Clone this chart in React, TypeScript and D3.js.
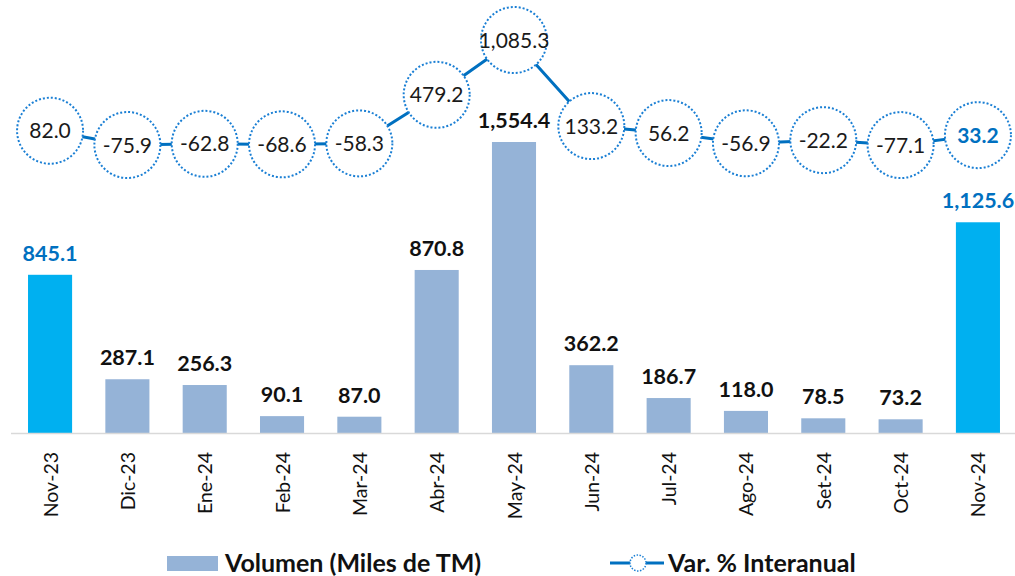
import React from "react";
import * as d3 from "d3";

const categories = ["Nov-23","Dic-23","Ene-24","Feb-24","Mar-24","Abr-24","May-24","Jun-24","Jul-24","Ago-24","Set-24","Oct-24","Nov-24"];
const volumen = [845.1, 287.1, 256.3, 90.1, 87.0, 870.8, 1554.4, 362.2, 186.7, 118.0, 78.5, 73.2, 1125.6];
const variacion = [82.0, -75.9, -62.8, -68.6, -58.3, 479.2, 1085.3, 133.2, 56.2, -56.9, -22.2, -77.1, 33.2];
const highlighted = ["Nov-23", "Nov-24"];

const W = 1015, H = 576;
const FONT = "Lato, 'Open Sans', sans-serif";
const BAR = "#95B3D7", HIGH = "#00B0F0", LINE = "#0070C0";

export default function App() {
  const x = d3.scaleBand<string>().domain(categories).range([11.4, 1016.6]).paddingInner(0.43).paddingOuter(0.215);
  const yBar = d3.scaleLinear().domain([0, 1554.4]).range([433, 142]);
  const yLine = d3.scaleLinear().domain([-75.9, 1085.3]).range([145, 40]);
  const cx = (c: string) => (x(c) as number) + x.bandwidth() / 2;
  const f = d3.format(",.1f");
  const fmt = (v: number) => f(v).replace("\u2212", "-");
  const line = d3.line<number>().x((_, i) => cx(categories[i])).y((v) => yLine(v));
  return (
    <svg width={W} height={H} style={{ position: "absolute", left: 0, top: 0, background: "#fff" }}>
      {categories.map((c, i) => {
        const hi = highlighted.includes(c);
        return (
          <g key={c}>
            <rect x={x(c)} y={yBar(volumen[i])} width={x.bandwidth()} height={yBar(0) - yBar(volumen[i])} fill={hi ? HIGH : BAR} />
            <text x={cx(c)} y={yBar(volumen[i]) - 14} textAnchor="middle" fontFamily={FONT} fontWeight="bold" fontSize={21.5} fill={hi ? LINE : "#111"}>{fmt(volumen[i])}</text>
            <text transform={`translate(${cx(c) + 7.5},452) rotate(-90)`} textAnchor="end" fontFamily={FONT} fontSize={19.5} fill="#111">{c}</text>
          </g>
        );
      })}
      <line x1={11} x2={1015} y1={433.5} y2={433.5} stroke="#d9d9d9" strokeWidth={1.5} />
      <path d={line(variacion) || ""} fill="none" stroke={LINE} strokeWidth={3} />
      {categories.map((c, i) => (
        <g key={"l" + c}>
          <circle cx={cx(c)} cy={yLine(variacion[i])} r={33} fill="#fff" stroke="#1a7fd4" strokeWidth={2} strokeDasharray="2 2" />
          <text x={cx(c)} y={yLine(variacion[i]) + 7.5} textAnchor="middle" fontFamily={FONT} fontSize={21}
            fontWeight={i === categories.length - 1 ? "bold" : "normal"} fill={i === categories.length - 1 ? LINE : "#1a1a1a"}>{fmt(variacion[i])}</text>
        </g>
      ))}
      <rect x={167} y={556} width={51} height={15} fill={BAR} />
      <text x={225} y={572} fontFamily={FONT} fontWeight="bold" fontSize={25} fill="#111">Volumen (Miles de TM)</text>
      <line x1={610} x2={664} y1={563} y2={563} stroke={LINE} strokeWidth={3} />
      <circle cx={638} cy={563} r={8} fill="#fff" stroke="#1a7fd4" strokeWidth={1.5} strokeDasharray="1.5 1.5" />
      <text x={668} y={572} fontFamily={FONT} fontWeight="bold" fontSize={25} fill="#111">Var. % Interanual</text>
    </svg>
  );
}
